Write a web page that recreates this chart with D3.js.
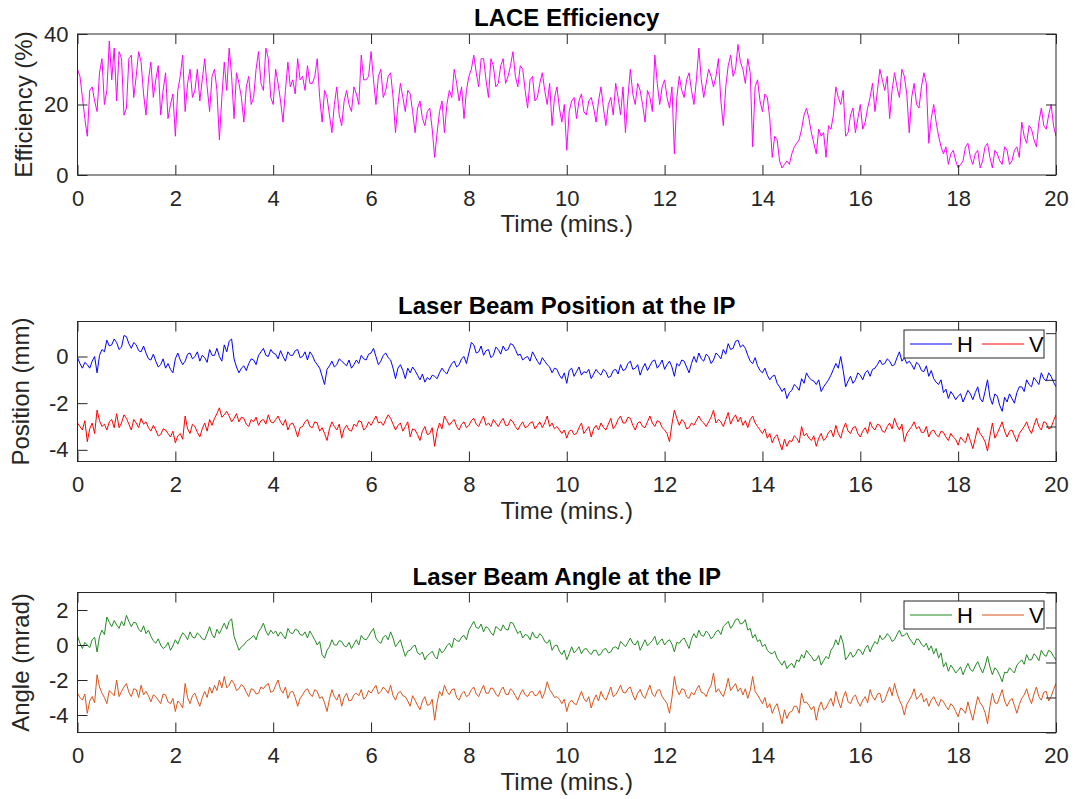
<!DOCTYPE html>
<html>
<head>
<meta charset="utf-8">
<script src="https://cdn.jsdelivr.net/npm/d3@7"></script>
<style>
    body { margin: 0; background: #fff; }
    text { font-family: "Liberation Sans", Arial, Helvetica, sans-serif; }
</style>
</head>
<body>
<svg id="chart" width="1077" height="799"></svg>
<script>
// samples every 0.05 min (3 s)
const timeStep = 0.05;
const xTicks = [0, 2, 4, 6, 8, 10, 12, 14, 16, 18, 20];

const efficiency = [
    30, 28, 22, 16, 11, 24, 25, 21, 18, 29, 33, 20, 24, 38, 27, 36, 21, 35, 33, 17,
    19, 33, 34, 22, 28, 35, 32, 23, 17, 27, 32, 22, 27, 31, 17, 24, 29, 16, 20, 23,
    11, 24, 28, 34, 18, 26, 30, 22, 24, 30, 21, 27, 33, 25, 18, 28, 30, 24, 10, 22,
    32, 24, 36, 28, 16, 29, 26, 22, 15, 25, 28, 20, 22, 30, 35, 26, 24, 36, 33, 22,
    20, 30, 26, 21, 15, 24, 32, 25, 27, 23, 33, 27, 28, 24, 31, 26, 26, 28, 33, 22,
    15, 24, 22, 17, 12, 20, 25, 17, 14, 21, 24, 20, 18, 25, 23, 20, 34, 27, 27, 28,
    35, 27, 20, 28, 30, 22, 24, 28, 29, 22, 12, 20, 26, 22, 18, 24, 23, 18, 12, 19,
    21, 16, 14, 18, 19, 13, 5, 12, 18, 21, 12, 20, 24, 22, 30, 26, 21, 25, 16, 24,
    28, 30, 34, 29, 25, 33, 33, 27, 22, 33, 31, 25, 26, 31, 33, 26, 28, 31, 35, 28,
    25, 31, 30, 24, 19, 27, 28, 21, 22, 26, 29, 24, 20, 26, 14, 22, 25, 19, 15, 20,
    7, 18, 21, 22, 16, 21, 23, 18, 17, 21, 22, 19, 15, 21, 25, 19, 14, 20, 22, 17,
    26, 22, 17, 25, 12, 22, 30, 23, 20, 26, 24, 20, 15, 24, 22, 18, 34, 26, 20, 25,
    27, 22, 19, 25, 6, 22, 28, 24, 22, 27, 29, 24, 20, 27, 36, 27, 22, 26, 30, 28,
    25, 28, 33, 21, 14, 25, 31, 34, 28, 30, 37, 32, 30, 26, 33, 29, 8, 25, 27, 21,
    18, 23, 22, 16, 5, 11, 10, 4, 2, 3, 4, 3, 6, 8, 9, 10, 13, 17, 19, 16,
    12, 9, 6, 13, 11, 12, 5, 14, 13, 17, 25, 22, 20, 24, 11, 12, 17, 19, 12, 16,
    20, 13, 15, 19, 22, 26, 18, 24, 30, 27, 24, 28, 16, 24, 29, 25, 22, 30, 28, 23,
    12, 22, 26, 20, 19, 25, 29, 26, 9, 16, 20, 15, 11, 8, 6, 8, 3, 6, 7, 4,
    2, 3, 4, 8, 9, 5, 3, 6, 7, 2, 4, 8, 9, 5, 2, 7, 6, 4, 3, 8,
    7, 3, 4, 7, 8, 5, 15, 11, 9, 14, 13, 10, 8, 15, 19, 14, 13, 17, 20, 14,
    11
];

const positionH = [
    -0.05, -0.3, -0.5, -0.25, -0.35, -0.5, -0.2, 0, -0.7, 0.05, 0.3, 0.2, 0.7, 0.45, 0.5, 0.75, 0.6, 0.3, 0.4, 0.9,
    0.85, 0.55, 0.35, 0.6, 0.5, 0.25, 0.2, 0.45, 0.15, -0.1, -0.15, 0.1, -0.2, -0.45, -0.35, -0.1, -0.5, -0.3, -0.55, -0.7,
    -0.1, 0.15, -0.15, -0.35, -0.2, 0.1, 0.15, -0.1, 0, 0.2, -0.2, 0.05, -0.05, -0.25, 0.3, 0.05, 0.05, 0.35, 0, -0.2,
    0.5, 0.2, 0.65, 0.75, -0.1, -0.45, -0.7, -0.5, -0.4, -0.6, -0.3, -0.1, -0.15, -0.35, 0.05, 0.2, 0.35, 0.05, 0, 0.3,
    0.15, 0.1, -0.1, 0.25, 0, -0.2, 0.2, 0.05, 0.05, 0.25, 0.3, -0.05, 0, 0.2, -0.15, 0.2, 0.05, -0.2, -0.35, -0.5,
    -0.85, -1.2, -0.55, -0.4, -0.2, -0.45, -0.35, -0.1, -0.2, -0.3, -0.4, -0.15, -0.5, -0.35, -0.15, -0.3, 0.05, -0.1, -0.15, 0.1,
    0.15, 0.35, 0, -0.35, -0.2, 0.05, 0.15, -0.05, -0.15, -0.5, -0.95, -0.5, -0.35, -0.6, -0.95, -0.5, -0.7, -0.45, -0.6, -0.8,
    -1.0, -0.75, -1.1, -0.9, -1.0, -0.8, -0.85, -0.95, -0.7, -0.5, -0.65, -0.75, -0.5, -0.3, -0.2, -0.45, -0.35, -0.1, 0, -0.3,
    0.15, 0.6, 0.5, 0.15, 0.2, 0.45, 0.05, 0.25, 0.3, -0.05, 0.05, 0.4, 0.3, 0.1, 0.45, 0.25, 0.3, 0.55, 0.5, 0.3,
    0.05, 0.1, -0.15, -0.05, 0, -0.2, 0.2, 0, -0.2, -0.35, -0.05, -0.2, -0.35, -0.45, -0.7, -0.5, -0.55, -0.8, -0.95, -0.7,
    -1.15, -0.6, -0.5, -0.85, -0.65, -0.45, -0.8, -0.65, -0.7, -0.55, -0.95, -0.75, -0.55, -0.7, -0.8, -0.55, -0.65, -0.9, -0.85, -0.6,
    -0.55, -0.75, -0.35, -0.6, -0.55, -0.3, -0.2, -0.55, -0.5, -0.35, -0.8, -0.5, -0.3, -0.6, -0.4, -0.2, -0.15, -0.5, -0.35, -0.15,
    -0.55, -0.35, -0.2, -0.45, -0.85, -0.3, -0.4, -0.15, -0.2, -0.45, -0.7, -0.3, 0, -0.25, 0.15, -0.1, -0.2, 0.1, 0, -0.3,
    -0.15, 0.15, 0.05, -0.1, 0.3, 0.1, 0.55, 0.3, 0.35, 0.65, 0.7, 0.4, 0.5, 0.35, 0.05, -0.2, -0.3, -0.05, -0.4, -0.6,
    -0.7, -0.5, -0.8, -1.0, -0.85, -0.8, -1.15, -1.3, -1.5, -1.35, -1.8, -1.55, -1.45, -1.2, -1.3, -1.45, -0.95, -1.15, -0.7, -0.9,
    -1.0, -1.05, -1.2, -1.0, -1.5, -1.3, -1.15, -1.0, -0.8, -0.55, -0.3, -0.5, 0, -0.6, -1.3, -1.05, -0.85, -1.15, -1.0, -0.7,
    -0.8, -1.0, -0.7, -0.6, -0.85, -0.55, -0.5, -0.35, -0.15, -0.35, -0.3, -0.1, -0.2, -0.4, -0.35, -0.05, 0.2, -0.2, -0.05, -0.3,
    -0.2, -0.35, -0.55, -0.25, -0.35, -0.6, -0.65, -0.4, -0.85, -0.6, -0.95, -1.1, -1.2, -1.0, -1.55, -1.4, -1.8, -1.5, -1.65, -1.85,
    -1.7, -1.6, -1.95, -1.7, -1.45, -1.6, -1.85, -1.55, -1.3, -1.8, -1.95, -1.5, -1.0, -1.75, -2.05, -1.6, -1.7, -2.1, -2.35, -1.75,
    -1.95, -1.6, -1.8, -2.0, -1.55, -1.3, -1.3, -1.5, -1.0, -1.2, -1.3, -0.9, -1.05, -1.2, -0.7, -0.95, -1.05, -0.7, -0.85, -1.1,
    -1.3
];

const positionV = [
    -2.85, -3.0, -3.15, -2.75, -3.65, -3.1, -2.85, -3.3, -2.3, -2.75, -3.0, -2.9, -3.15, -2.8, -2.7, -3.05, -2.45, -3.05, -2.85, -2.5,
    -2.65, -2.9, -3.15, -2.7, -2.85, -3.05, -2.65, -2.9, -2.8, -3.05, -3.2, -2.95, -3.15, -3.4, -3.35, -3.1, -3.15, -3.3, -3.45, -3.2,
    -3.7, -3.4, -3.3, -3.55, -2.55, -3.1, -3.3, -2.9, -3.0, -3.25, -3.45, -3.1, -2.85, -3.2, -2.7, -2.95, -2.65, -2.45, -2.2, -2.6,
    -2.5, -2.35, -2.55, -2.8, -2.65, -2.45, -2.8, -2.6, -2.65, -2.9, -3.0, -2.7, -2.8, -2.6, -2.95, -2.75, -2.7, -2.9, -2.5, -2.8,
    -2.85, -2.7, -2.55, -2.8, -2.95, -2.7, -3.15, -2.9, -2.85, -3.1, -3.45, -3.05, -3.0, -2.8, -2.7, -3.0, -3.05, -2.8, -2.85, -3.2,
    -3.05, -3.3, -3.6, -3.1, -2.8, -3.0, -3.15, -2.9, -3.5, -3.1, -2.95, -3.15, -3.2, -2.9, -3.0, -2.75, -2.8, -3.15, -3.05, -2.8,
    -2.95, -2.75, -2.55, -2.85, -2.8, -2.95, -2.7, -2.5, -2.65, -2.9, -3.15, -2.95, -2.85, -3.2, -3.0, -2.8, -3.45, -3.1, -3.15, -3.35,
    -3.6, -3.2, -3.0, -3.35, -3.3, -3.05, -3.85, -3.2, -2.85, -3.1, -2.55, -2.75, -2.95, -2.8, -2.7, -3.0, -3.15, -2.9, -2.8, -3.05,
    -2.95, -2.75, -2.65, -2.9, -3.0, -2.75, -2.55, -2.95, -2.85, -3.0, -2.7, -2.85, -3.0, -2.8, -2.65, -2.95, -2.95, -2.7, -2.8, -3.0,
    -3.15, -2.95, -2.8, -3.05, -3.0, -2.85, -2.8, -3.1, -2.95, -2.8, -3.05, -2.85, -2.55, -3.0, -2.85, -3.1, -3.0, -3.15, -3.3, -3.15,
    -3.5, -3.2, -3.15, -3.35, -3.3, -3.05, -2.85, -3.3, -3.15, -3.0, -3.45, -3.1, -2.95, -3.15, -2.85, -3.05, -3.15, -2.9, -2.65, -3.1,
    -2.95, -2.7, -2.55, -2.85, -2.85, -2.6, -2.65, -2.95, -3.15, -2.85, -2.8, -3.0, -3.05, -2.8, -2.55, -2.85, -3.0, -2.75, -2.8, -3.05,
    -3.15, -3.3, -3.65, -2.9, -2.3, -2.65, -2.95, -2.7, -2.8, -3.1, -3.05, -2.85, -2.95, -2.75, -2.55, -2.75, -2.85, -3.0, -2.8, -2.6,
    -2.3, -2.85, -2.7, -2.8, -3.0, -2.7, -2.4, -2.9, -2.65, -2.5, -2.8, -2.6, -2.95, -2.75, -3.05, -2.7, -2.55, -2.85, -3.0, -3.15,
    -3.3, -3.1, -3.5, -3.3, -3.7, -3.45, -3.35, -3.7, -4.0, -3.55, -3.85, -3.6, -3.65, -3.4, -3.5, -3.7, -3.0, -3.4, -3.3, -3.5,
    -3.6, -3.4, -3.85, -3.5, -3.3, -3.6, -3.5, -3.25, -3.15, -3.45, -2.95, -3.3, -3.5, -3.1, -2.85, -3.2, -3.3, -3.05, -3.0, -3.3,
    -3.45, -3.2, -3.05, -3.3, -2.8, -3.05, -3.15, -2.9, -2.95, -3.2, -3.25, -3.0, -2.85, -3.1, -2.65, -2.95, -3.15, -2.9, -3.65, -3.3,
    -3.15, -3.0, -2.8, -3.1, -3.0, -3.25, -3.25, -3.0, -3.45, -3.2, -3.15, -3.35, -3.45, -3.2, -3.25, -3.45, -3.6, -3.3, -3.45, -3.55,
    -3.8, -3.45, -3.6, -3.7, -3.3, -3.6, -3.95, -3.5, -3.05, -3.3, -3.45, -3.65, -4.05, -3.4, -2.85, -3.5, -3.3, -3.05, -2.8, -3.2,
    -3.45, -3.2, -3.15, -3.4, -3.65, -3.3, -3.15, -3.0, -2.8, -3.1, -3.3, -2.95, -2.65, -3.0, -3.15, -2.8, -2.85, -3.1, -3.05, -2.75,
    -2.5
];

const angleH = [
    0.5, 0.1, -0.2, 0.15, 0, -0.15, 0.3, 0.45, -0.4, 0.5, 0.85, 0.6, 1.6, 1.3, 1.05, 1.4, 1.15, 0.95, 1.35, 1.1,
    1.7, 1.35, 1.05, 1.3, 1.25, 0.9, 0.75, 1.1, 0.65, 0.85, 0.5, 0.25, 0.1, 0.35, 0, -0.2, -0.1, 0.15, -0.3, -0.05,
    0.3, 0.05, 0.4, 0.7, 0.55, 0.3, 0.75, 0.45, 0.4, 0.7, 0.55, 0.35, 0.3, 0.65, 1.05, 0.6, 0.4, 0.9, 0.65, 0.95,
    1.25, 0.9, 1.35, 1.5, 0.5, 0.1, -0.3, -0.1, 0, 0.2, 0.3, 0.4, 0.55, 0.3, 0.75, 0.95, 1.25, 0.8, 0.55, 0.85,
    0.65, 0.8, 0.5, 0.75, 0.55, 0.35, 0.95, 0.7, 0.65, 0.9, 0.85, 0.6, 0.55, 0.75, 0.4, 0.8, 0.55, 0.3, 0, 0.2,
    -0.55, -0.75, -0.3, -0.1, 0.3, 0, 0, 0.25, 0.2, -0.05, -0.1, 0.15, -0.2, 0.05, 0.3, 0, 0.55, 0.35, 0.3, 0.5,
    0.75, 0.95, 0.4, 0.2, 0.1, 0.45, 0.55, 0.3, 0.75, 0.4, -0.1, 0.1, 0.3, -0.2, -0.65, -0.35, -0.3, -0.1, 0, -0.45,
    -0.55, -0.4, -0.85, -0.6, -0.5, -0.35, -0.65, -0.8, -0.2, -0.45, -0.3, -0.05, 0.1, -0.15, 0.4, 0.25, 0.2, 0.45, 0.55, 0.3,
    0.85, 1.1, 1.35, 1.0, 0.95, 1.2, 0.75, 1.05, 0.95, 0.7, 0.55, 1.05, 0.95, 0.8, 1.15, 0.9, 0.85, 1.3, 1.25, 0.95,
    0.65, 0.8, 0.4, 0.6, 0.55, 0.3, 0.75, 0.45, 0.4, 0.65, 0.5, 0.2, 0.1, 0.3, -0.3, -0.05, 0, -0.35, -0.55, -0.3,
    -0.85, -0.5, -0.1, -0.45, -0.3, -0.1, -0.5, -0.25, -0.2, -0.4, -0.55, -0.3, -0.3, -0.6, -0.5, -0.25, -0.2, -0.45, -0.4, -0.15,
    -0.1, -0.25, 0.2, 0.05, -0.1, 0.15, 0.4, 0.1, 0, 0.25, -0.3, 0, 0.3, -0.05, 0.1, 0.25, 0.5, 0, 0.2, 0.35,
    0, 0.2, 0.3, 0.05, -0.4, 0.15, 0.1, 0.3, 0.4, 0.1, -0.2, 0.35, 0.65, 0.4, 0.85, 0.55, 0.5, 0.8, 0.65, 0.35,
    0.5, 0.75, 0.85, 0.6, 1.05, 1.2, 1.35, 0.95, 1.15, 1.45, 1.5, 1.2, 1.25, 1.45, 0.85, 0.95, 0.4, 0.6, 0.2, 0.3,
    -0.1, 0.05, -0.3, -0.45, -0.5, -0.35, -0.75, -0.95, -1.15, -0.9, -1.35, -1.15, -1.05, -1.3, -0.85, -0.95, -0.55, -0.75, -0.3, -0.5,
    -0.65, -0.9, -0.85, -0.6, -1.15, -0.9, -0.65, -0.8, -0.3, -0.1, 0.3, 0, 0.55, 0.1, -0.85, -0.65, -0.4, -0.7, -0.55, -0.25,
    -0.3, -0.55, -0.2, 0, -0.4, -0.05, 0.2, 0.05, 0.55, 0.3, 0.4, 0.65, 0.5, 0.2, 0.3, 0.6, 0.85, 0.5, 0.55, 0.7,
    0.4, 0.2, 0, 0.35, 0.3, 0.05, -0.1, 0.1, -0.3, -0.05, -0.5, -0.2, -0.75, -0.45, -1.25, -1.0, -1.5, -1.15, -1.35, -1.6,
    -1.45, -1.25, -1.7, -1.35, -1.05, -1.4, -1.5, -1.2, -0.95, -1.3, -1.6, -1.2, -0.65, -1.25, -1.7, -1.3, -1.45, -1.75, -2.1, -1.55,
    -1.6, -1.3, -1.45, -1.6, -1.15, -1.0, -0.85, -1.1, -0.55, -0.85, -0.85, -0.5, -0.65, -0.9, -0.3, -0.55, -0.65, -0.3, -0.4, -0.65,
    -0.85
];

const angleV = [
    -2.75, -3.0, -3.15, -2.8, -3.9, -3.2, -2.95, -3.3, -1.7, -2.4, -2.75, -3.0, -3.35, -2.6, -2.75, -2.9, -2.0, -2.95, -2.65, -2.4,
    -2.2, -2.7, -2.95, -2.5, -2.55, -3.0, -2.3, -2.85, -2.65, -2.9, -3.25, -2.85, -2.95, -3.15, -3.35, -2.8, -2.85, -3.25, -3.35, -3.05,
    -3.8, -3.2, -3.35, -3.6, -2.2, -3.0, -3.35, -2.9, -2.75, -3.15, -3.5, -3.0, -2.65, -3.0, -2.4, -2.75, -2.3, -2.6, -2.0, -2.45,
    -1.8, -2.45, -2.3, -2.0, -2.2, -2.6, -2.5, -2.25, -2.4, -2.7, -2.95, -2.5, -2.55, -2.8, -2.75, -2.4, -2.5, -2.3, -2.2, -2.7,
    -2.65, -2.3, -2.0, -2.55, -2.75, -2.4, -3.05, -2.7, -2.65, -3.0, -3.5, -3.05, -2.85, -2.6, -2.5, -2.8, -2.95, -2.55, -2.65, -3.05,
    -2.95, -3.3, -3.8, -3.1, -2.55, -2.95, -3.15, -2.8, -3.5, -3.0, -2.75, -3.2, -3.15, -2.85, -2.75, -2.9, -2.55, -3.1, -2.95, -2.6,
    -2.75, -2.5, -2.3, -2.8, -2.65, -2.4, -2.55, -2.75, -2.3, -2.9, -3.15, -2.75, -2.65, -2.9, -2.95, -3.2, -3.5, -2.9, -3.15, -3.45,
    -3.7, -3.2, -2.95, -3.45, -3.4, -3.1, -4.3, -3.3, -2.65, -2.9, -2.3, -2.65, -2.85, -2.55, -2.5, -3.0, -3.15, -2.8, -2.65, -2.95,
    -2.85, -2.55, -2.4, -2.8, -2.95, -2.6, -2.3, -2.75, -2.75, -2.45, -2.5, -2.8, -2.95, -2.6, -2.4, -2.8, -2.85, -2.5, -2.65, -2.9,
    -3.15, -2.8, -2.55, -2.85, -2.95, -2.7, -2.65, -2.9, -2.85, -2.6, -3.05, -2.7, -2.1, -2.55, -2.75, -3.0, -2.95, -3.1, -3.35, -3.1,
    -3.8, -3.3, -3.15, -3.35, -3.4, -3.0, -2.65, -3.05, -3.25, -2.95, -3.6, -3.15, -2.85, -3.2, -2.65, -3.0, -3.15, -2.8, -2.4, -2.95,
    -2.85, -2.6, -2.3, -2.7, -2.75, -2.5, -2.4, -2.85, -3.15, -2.75, -2.55, -2.9, -3.05, -2.65, -2.3, -2.8, -2.95, -2.6, -2.55, -2.95,
    -3.15, -3.35, -3.9, -3.0, -1.8, -2.55, -2.85, -2.5, -2.55, -2.95, -3.05, -2.7, -2.85, -2.55, -2.3, -2.7, -2.75, -2.95, -2.55, -2.3,
    -1.6, -2.7, -2.5, -2.75, -2.95, -2.5, -1.9, -2.6, -2.4, -2.2, -2.65, -2.45, -2.85, -2.5, -3.05, -2.6, -1.8, -2.65, -2.85, -3.1,
    -3.35, -3.0, -3.6, -3.35, -3.9, -3.55, -3.35, -3.9, -4.5, -3.7, -4.2, -3.85, -3.8, -3.5, -3.5, -3.9, -2.75, -3.3, -3.25, -3.45,
    -3.7, -3.5, -4.3, -3.6, -3.25, -3.7, -3.6, -3.3, -3.05, -3.5, -2.65, -3.2, -3.6, -3.0, -2.65, -3.25, -3.35, -3.0, -2.85, -3.25,
    -3.5, -3.15, -2.95, -3.3, -2.55, -2.95, -3.15, -2.8, -2.75, -3.3, -3.15, -2.75, -2.4, -2.9, -2.2, -2.75, -3.15, -3.45, -4.0, -3.4,
    -3.15, -2.9, -2.5, -3.1, -2.95, -2.75, -3.25, -3.05, -3.5, -3.15, -2.95, -3.25, -3.5, -3.1, -3.25, -3.5, -3.7, -3.35, -3.5, -3.8,
    -4.1, -3.6, -3.7, -3.9, -3.25, -3.8, -4.3, -3.6, -2.95, -3.3, -3.5, -3.85, -4.5, -3.5, -2.75, -3.3, -3.35, -2.95, -2.55, -3.2,
    -3.5, -3.2, -3.05, -3.45, -3.9, -3.4, -3.05, -2.85, -2.5, -3.0, -3.35, -2.8, -2.4, -2.95, -3.15, -2.7, -2.65, -3.2, -2.95, -2.55,
    -2.2
];

const axisColor = '#262626';
const svg = d3.select('#chart');

const x = d3.scaleLinear()
    .domain([0, 20])
    .range([77.5, 1056]);

const panels = [
    {
        title: 'LACE Efficiency', yLabel: 'Efficiency (%)', labelX: 32,
        top: 34, bottom: 175, yDomain: [0, 40],
        yTicks: [0, 20, 40], rightTicks: [0, 20, 40],
        series: [{ name: 'Efficiency', values: efficiency, color: '#ff00ff' }],
        legend: false
    },
    {
        title: 'Laser Beam Position at the IP', yLabel: 'Position (mm)', labelX: 29,
        top: 321.5, bottom: 461.5, yDomain: [-4.5, 1.5],
        yTicks: [-4, -2, 0], rightTicks: [-3, -1, 1],
        series: [
            { name: 'H', values: positionH, color: '#0000ff' },
            { name: 'V', values: positionV, color: '#ff0000' }
        ],
        legend: true
    },
    {
        title: 'Laser Beam Angle at the IP', yLabel: 'Angle (mrad)', labelX: 29,
        top: 592.5, bottom: 732.5, yDomain: [-5, 3],
        yTicks: [-4, -2, 0, 2], rightTicks: [-5, -3, -1, 1, 3],
        series: [
            { name: 'H', values: angleH, color: '#228b22' },
            { name: 'V', values: angleV, color: '#d95319' }
        ],
        legend: true
    }
];

panels.forEach(drawPanel);

function styleAxis(g) {
    g.select('.domain').remove();
    g.attr('color', axisColor)
        .attr('font-family', null)
        .attr('font-size', 22);
}

function drawPanel(p, idx) {
    const y = d3.scaleLinear()
        .domain(p.yDomain)
        .range([p.bottom, p.top]);

    const g = svg.append('g');

    g.append('clipPath')
        .attr('id', 'clip' + idx)
        .append('rect')
        .attr('x', x.range()[0])
        .attr('y', p.top)
        .attr('width', x.range()[1] - x.range()[0])
        .attr('height', p.bottom - p.top);

    const line = d3.line()
        .x((d, i) => x(i * timeStep))
        .y(d => y(d));

    p.series.forEach(s => {
        g.append('path')
            .datum(s.values)
            .attr('clip-path', `url(#clip${idx})`)
            .attr('d', line)
            .attr('fill', 'none')
            .attr('stroke', s.color)
            .attr('stroke-width', 1)
            .attr('stroke-linejoin', 'round');
    });

    // axes, ticks point inward like matlab
    g.append('g')
        .attr('transform', `translate(0,${p.bottom})`)
        .call(d3.axisBottom(x).tickValues(xTicks).tickSize(-10).tickPadding(15).tickFormat(d => String(d)))
        .call(styleAxis);

    g.append('g')
        .attr('transform', `translate(0,${p.top})`)
        .call(d3.axisTop(x).tickValues(xTicks).tickSize(-10).tickFormat(''))
        .call(styleAxis);

    g.append('g')
        .attr('transform', `translate(${x.range()[0]},0)`)
        .call(d3.axisLeft(y).tickValues(p.yTicks).tickSize(-10).tickPadding(9).tickFormat(d => String(d)))
        .call(styleAxis);

    g.append('g')
        .attr('transform', `translate(${x.range()[1]},0)`)
        .call(d3.axisRight(y).tickValues(p.rightTicks).tickSize(-10).tickFormat(''))
        .call(styleAxis);

    g.append('rect')
        .attr('x', x.range()[0])
        .attr('y', p.top)
        .attr('width', x.range()[1] - x.range()[0])
        .attr('height', p.bottom - p.top)
        .attr('fill', 'none')
        .attr('stroke', axisColor)
        .attr('stroke-width', 1);

    const midX = (x.range()[0] + x.range()[1]) / 2;

    g.append('text')
        .attr('x', midX)
        .attr('y', p.top - 8)
        .attr('text-anchor', 'middle')
        .attr('font-size', 24)
        .attr('font-weight', 'bold')
        .attr('fill', '#000')
        .text(p.title);

    g.append('text')
        .attr('x', midX)
        .attr('y', p.bottom + 57)
        .attr('text-anchor', 'middle')
        .attr('font-size', 24)
        .attr('fill', axisColor)
        .text('Time (mins.)');

    g.append('text')
        .attr('transform', `translate(${p.labelX},${(p.top + p.bottom) / 2}) rotate(-90)`)
        .attr('text-anchor', 'middle')
        .attr('font-size', 24)
        .attr('fill', axisColor)
        .text(p.yLabel);

    if (p.legend) {
        const lg = g.append('g')
            .attr('transform', `translate(904,${p.top + 8.5})`);
        lg.append('rect')
            .attr('width', 140)
            .attr('height', 28)
            .attr('fill', '#fff')
            .attr('stroke', axisColor)
            .attr('stroke-width', 1);
        p.series.forEach((s, i) => {
            const ox = 6 + i * 72;
            lg.append('line')
                .attr('x1', ox)
                .attr('x2', ox + 42)
                .attr('y1', 14)
                .attr('y2', 14)
                .attr('stroke', s.color)
                .attr('stroke-width', 1);
            lg.append('text')
                .attr('x', ox + 47)
                .attr('y', 22)
                .attr('font-size', 22)
                .attr('fill', '#000')
                .text(s.name);
        });
    }
}
</script>
</body>
</html>
